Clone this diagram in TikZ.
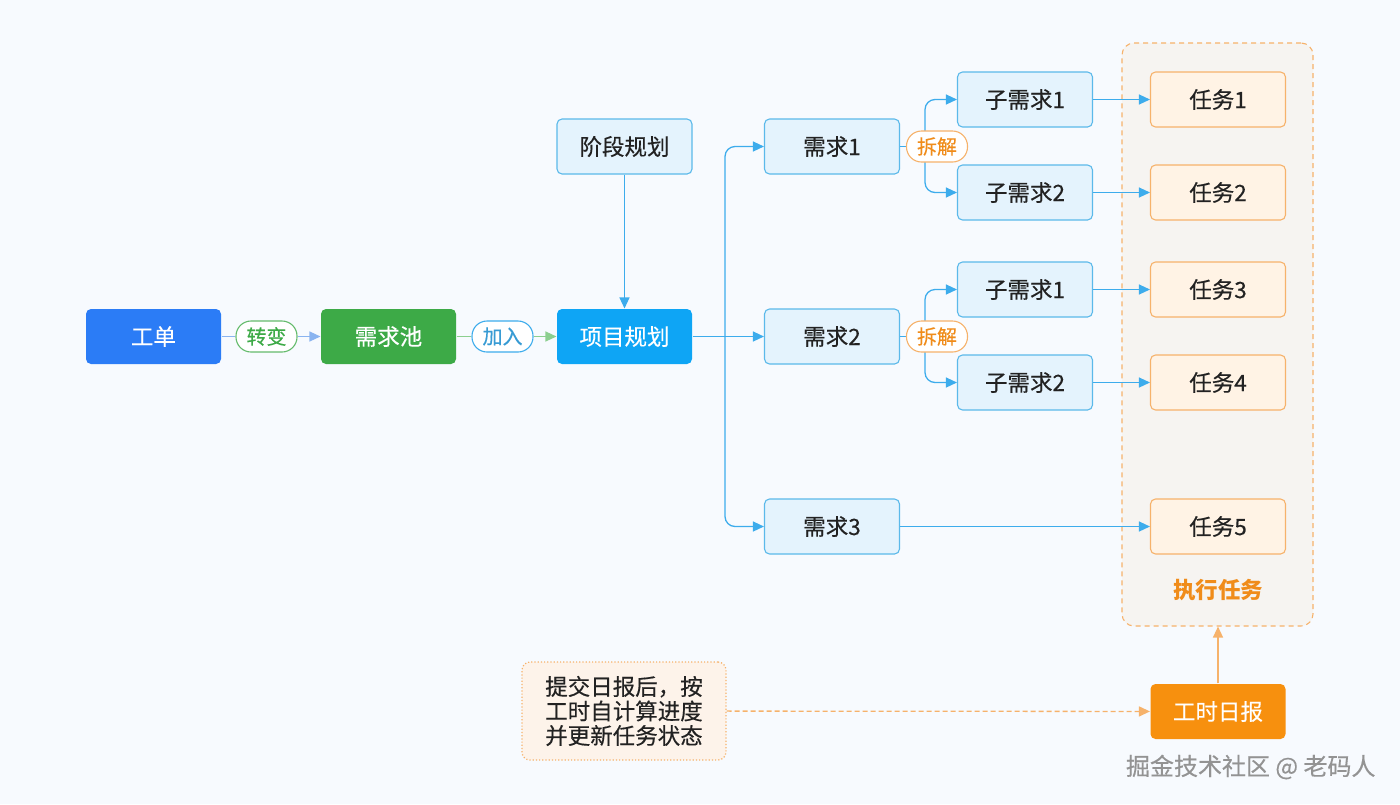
\documentclass[tikz,border=0pt]{standalone}
\usepackage{fontspec}
\setmainfont{Noto Sans CJK SC}[UprightFeatures={FakeBold=0.35}]
\usetikzlibrary{arrows.meta}
\definecolor{bg}{HTML}{F7FAFE}
\definecolor{cblue}{HTML}{2B7CF6}
\definecolor{cgreen}{HTML}{3DAA47}
\definecolor{csky}{HTML}{0EA5F5}
\definecolor{lblue}{HTML}{3DACEC}
\definecolor{reqfill}{HTML}{E4F3FD}
\definecolor{reqdraw}{HTML}{5BB9EA}
\definecolor{taskfill}{HTML}{FFF3E5}
\definecolor{taskdraw}{HTML}{F6B26B}
\definecolor{corange}{HTML}{F7900E}
\definecolor{otext}{HTML}{F08C1A}
\definecolor{contfill}{HTML}{F6F4F1}
\definecolor{notefill}{HTML}{FDF3EA}
\definecolor{l1}{HTML}{8AB4F0}
\definecolor{l2}{HTML}{8CCF8F}
\definecolor{ptext}{HTML}{222222}
\tikzset{
  box/.style={rounded corners=5pt, minimum width=135pt, minimum height=55pt, inner sep=0pt, font=\fontsize{22.5}{26}\selectfont, line width=1.1pt},
  solidbox/.style={box, text=white},
  req/.style={box, fill=reqfill, draw=reqdraw, text=ptext},
  task/.style={box, fill=taskfill, draw=taskdraw, text=ptext},
  pill/.style={rounded corners=15pt, minimum width=61pt, minimum height=31pt, inner sep=0pt, fill=white, line width=1.1pt, font=\fontsize{20}{22}\selectfont},
  conn/.style={draw=lblue, line width=1.3pt, -{Triangle[length=11pt,width=10pt]}},
  plain/.style={draw=lblue, line width=1.3pt},
}
\begin{document}
\begin{tikzpicture}[x=1pt,y=-1pt]
\path[fill=bg] (0,0) rectangle (1400,804);
\useasboundingbox (0,0) rectangle (1400,804);

% container
\node[draw=taskdraw, dashed, dash pattern=on 5pt off 4pt, fill=contfill, rounded corners=12pt, minimum width=191pt, minimum height=583pt, line width=1.1pt] (cont) at (1217.5,334.5) {};
\node[text=otext, font=\fontsize{22.5}{26}\selectfont\bfseries] (exec) at (1218,590) {执行任务};

% main nodes
\node[solidbox, fill=cblue] (gd) at (153.5,336.5) {工单};
\node[solidbox, fill=cgreen] (xqc) at (388.5,336.5) {需求池};
\node[solidbox, fill=csky] (xmgh) at (624.5,336.5) {项目规划};
\node[req] (jdgh) at (624.5,146.5) {阶段规划};
\node[req] (xq1) at (832,146.5) {需求1};
\node[req] (xq2) at (832,336.5) {需求2};
\node[req] (xq3) at (832,526.5) {需求3};
\node[req] (s11) at (1025,99.5) {子需求1};
\node[req] (s12) at (1025,192.5) {子需求2};
\node[req] (s21) at (1025,289.5) {子需求1};
\node[req] (s22) at (1025,382.5) {子需求2};
\node[task] (t1) at (1218,99.5) {任务1};
\node[task] (t2) at (1218,192.5) {任务2};
\node[task] (t3) at (1218,289.5) {任务3};
\node[task] (t4) at (1218,382.5) {任务4};
\node[task] (t5) at (1218,526.5) {任务5};
\node[solidbox, fill=corange] (gsrb) at (1218,711.5) {工时日报};
\node[draw=taskdraw, dotted, line width=1.2pt, fill=notefill, rounded corners=8pt, minimum width=204pt, minimum height=98pt, inner sep=0pt, align=center, text=ptext, font=\fontsize{22.5}{24.5}\selectfont] (note) at (624,711) {提交日报后，按\\工时自计算进度\\并更新任务状态};

% pills
\node[pill, draw=cgreen!80, text=cgreen] (zb) at (266.5,336.5) {转变};
\node[pill, draw=lblue, text=lblue!90!black] (jr) at (502.5,336.5) {加入};

% left connectors
\draw[draw=l1, line width=1.3pt] (gd) -- (zb);
\draw[draw=l1, line width=1.3pt, -{Triangle[length=11pt,width=10pt]}] (zb) -- (xqc);
\draw[draw=l2, line width=1.3pt] (xqc) -- (jr);
\draw[draw=l2, line width=1.3pt, -{Triangle[length=11pt,width=10pt]}] (jr) -- (xmgh);
\draw[conn] (jdgh) -- (xmgh);

% trunk
\coordinate (tr) at (725,336.5);
\draw[conn] (xmgh) -- (xq2);
\draw[conn, rounded corners=10pt] (tr) |- (xq1);
\draw[conn, rounded corners=10pt] (tr) |- (xq3);

% splits
\coordinate (sp1) at (925,146.5);
\coordinate (sp2) at (925,336.5);
\draw[plain] (xq1) -- (sp1);
\draw[conn, rounded corners=10pt] (sp1) |- (s11);
\draw[conn, rounded corners=10pt] (sp1) |- (s12);
\draw[plain] (xq2) -- (sp2);
\draw[conn, rounded corners=10pt] (sp2) |- (s21);
\draw[conn, rounded corners=10pt] (sp2) |- (s22);
\node[pill, draw=taskdraw, text=otext] (cj1) at (937,146.5) {拆解};
\node[pill, draw=taskdraw, text=otext] (cj2) at (937,336.5) {拆解};

% to tasks
\draw[conn] (s11) -- (t1);
\draw[conn] (s12) -- (t2);
\draw[conn] (s21) -- (t3);
\draw[conn] (s22) -- (t4);
\draw[conn] (xq3) -- (t5);

% bottom
\draw[draw=taskdraw, line width=1.3pt, -{Triangle[length=11pt,width=10pt]}] (gsrb.north) -- (gsrb.north |- cont.south);
\draw[draw=taskdraw, line width=1.3pt, dashed, dash pattern=on 5pt off 3pt, -{Triangle[length=11pt,width=10pt]}] (note) -- (gsrb);

\node[text=gray!85, font=\fontsize{24}{28}\selectfont, anchor=east] (wm) at (1379,767) {掘金技术社区 @ 老码人};
\end{tikzpicture}
\end{document}
